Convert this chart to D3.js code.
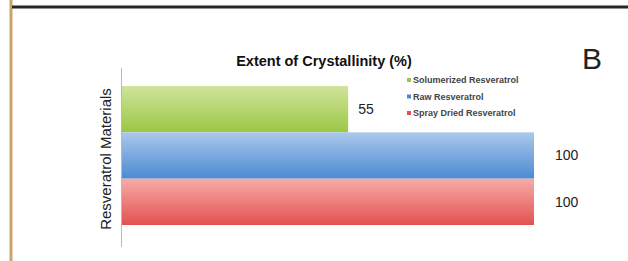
<!DOCTYPE html>
<html>
<head>
<meta charset="utf-8">
<script src="https://cdn.jsdelivr.net/npm/d3@7"></script>
<style>
  body { margin: 0; background: #fff; }
  svg { display: block; font-family: "Liberation Sans", "DejaVu Sans", sans-serif; }
</style>
</head>
<body>
<script>
// ---- data ----
var categories = ["Solumerized Resveratrol", "Raw Resveratrol", "Spray Dried Resveratrol"];
var values = [55, 100, 100];
var topColors = ["#d0e49c", "#abc8eb", "#f6aca9"];
var bottomColors = ["#9cc743", "#4a8bd2", "#e3514f"];

var W = 628, H = 261;

var svg = d3.select("body").append("svg")
  .attr("width", W)
  .attr("height", H);

// page frame: tan left rule + dark top rule
svg.append("rect").attr("x", 0).attr("y", 0).attr("width", W).attr("height", H).attr("fill", "#fff");
svg.append("line")
  .attr("x1", 11).attr("x2", 11).attr("y1", 0).attr("y2", H)
  .attr("stroke", "#c9a46e").attr("stroke-width", 3);
svg.append("line")
  .attr("x1", 12).attr("x2", W).attr("y1", 7).attr("y2", 7)
  .attr("stroke", "#262626").attr("stroke-width", 3);

// scales
var x = d3.scaleLinear().domain([0, 100]).range([121, 534]);
var y = d3.scaleBand().domain(categories).range([86, 225]).padding(0);

// gradients
var defs = svg.append("defs");
categories.forEach(function(c, i) {
  var g = defs.append("linearGradient")
    .attr("id", "grad" + i)
    .attr("x1", 0).attr("x2", 0).attr("y1", 0).attr("y2", 1);
  g.append("stop").attr("offset", "0%").attr("stop-color", topColors[i]);
  g.append("stop").attr("offset", "100%").attr("stop-color", bottomColors[i]);
});

// bars
svg.selectAll("rect.bar")
  .data(categories)
  .enter()
  .append("rect")
  .attr("class", "bar")
  .attr("x", x(0))
  .attr("y", function(d) { return y(d); })
  .attr("width", function(d, i) { return x(values[i]) - x(0); })
  .attr("height", y.bandwidth())
  .attr("fill", function(d, i) { return "url(#grad" + i + ")"; });

// value labels
svg.selectAll("text.val")
  .data(categories)
  .enter()
  .append("text")
  .attr("class", "val")
  .attr("x", function(d, i) { return x(values[i]) + (values[i] >= 100 ? 21 : 10); })
  .attr("y", function(d) { return y(d) + y.bandwidth() / 2; })
  .attr("dy", "0.35em")
  .attr("font-size", 14)
  .attr("fill", "#222")
  .text(function(d, i) { return values[i]; });

// y axis line (no ticks)
svg.append("line")
  .attr("x1", x(0) + 0.5).attr("x2", x(0) + 0.5)
  .attr("y1", 68).attr("y2", 247)
  .attr("stroke", "#b8b8b8").attr("stroke-width", 1);

// title
svg.append("text")
  .attr("x", 324).attr("y", 66)
  .attr("text-anchor", "middle")
  .attr("font-size", 14.5)
  .attr("font-weight", "bold")
  .attr("fill", "#111")
  .text("Extent of Crystallinity (%)");

// y label
svg.append("text")
  .attr("transform", "translate(106,159) rotate(-90)")
  .attr("text-anchor", "middle")
  .attr("dy", "0.35em")
  .attr("font-size", 15)
  .attr("fill", "#222")
  .text("Resveratrol Materials");

// legend
var legend = svg.append("g").attr("transform", "translate(407,80)");
categories.forEach(function(c, i) {
  var row = legend.append("g").attr("transform", "translate(0," + (i * 16.5) + ")");
  row.append("rect")
    .attr("x", 0).attr("y", -2).attr("width", 4).attr("height", 4)
    .attr("fill", bottomColors[i]);
  row.append("text")
    .attr("x", 6).attr("y", 0)
    .attr("dy", "0.35em")
    .attr("font-size", 9)
    .attr("font-weight", "bold")
    .attr("fill", "#444")
    .text(c);
});

// panel letter
svg.append("text")
  .attr("x", 582).attr("y", 69)
  .attr("font-size", 30)
  .attr("fill", "#222")
  .text("B");
</script>
</body>
</html>
